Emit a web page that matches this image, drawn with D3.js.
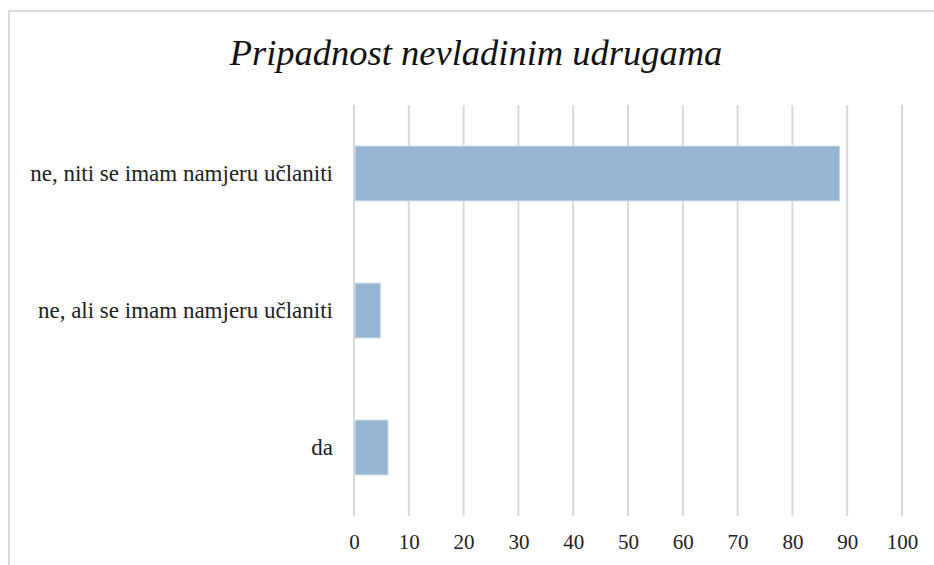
<!DOCTYPE html>
<html lang="hr">
<head>
<meta charset="utf-8">
<title>Pripadnost nevladinim udrugama</title>
<script src="https://cdn.jsdelivr.net/npm/d3@7"></script>
<style>
  body { margin: 0; background: #fff; }
  svg { display: block; }
  svg text { font-family: "Liberation Serif", "Times New Roman", "DejaVu Serif", serif !important; }
</style>
</head>
<body>
<svg id="chart" width="934" height="565"></svg>
<script>
// data
var categories = ["ne, niti se imam namjeru učlaniti", "ne, ali se imam namjeru učlaniti", "da"];
var values = [88.6, 4.8, 6.2];
var xTicks = [0, 10, 20, 30, 40, 50, 60, 70, 80, 90, 100];

var svg = d3.select("#chart");

// chart frame (right and bottom edges are cut off in the original)
svg.append("path")
  .attr("d", "M9,565V11H934")
  .attr("fill", "none")
  .attr("stroke", "#d9d9d9")
  .attr("stroke-width", 2);

var margin = {left: 354, right: 32, top: 105, bottom: 49};
var width = 934 - margin.left - margin.right,
    height = 565 - margin.top - margin.bottom;

var x = d3.scaleLinear().domain([0, 100]).range([margin.left, margin.left + width]);
var y = d3.scaleBand().domain(categories).range([margin.top, margin.top + height]).paddingInner(0.6).paddingOuter(0.3);

// gridlines
svg.append("g")
  .selectAll("line")
  .data(xTicks)
  .enter().append("line")
  .attr("x1", function(d) { return x(d); })
  .attr("x2", function(d) { return x(d); })
  .attr("y1", margin.top)
  .attr("y2", margin.top + height)
  .attr("stroke", "#d9d9d9")
  .attr("stroke-width", 2);

// bars
svg.append("g")
  .selectAll("rect")
  .data(values)
  .enter().append("rect")
  .attr("x", x(0) + 1)
  .attr("y", function(d, i) { return y(categories[i]); })
  .attr("width", function(d) { return x(d) - x(0) - 1; })
  .attr("height", y.bandwidth())
  .attr("fill", "#95b6d3")
  .attr("stroke", "#c5d7e8")
  .attr("stroke-width", 1);

// x axis labels
var xAxis = d3.axisBottom(x).tickValues(xTicks).tickSize(0).tickPadding(18);
svg.append("g")
  .attr("transform", "translate(0," + (margin.top + height) + ")")
  .call(xAxis)
  .call(function(g) { g.select(".domain").remove(); })
  .selectAll("text")
  .attr("font-size", 21)
  .attr("fill", "#222");

// category labels
var yAxis = d3.axisLeft(y).tickSize(0).tickPadding(21);
svg.append("g")
  .attr("transform", "translate(" + margin.left + ",0)")
  .call(yAxis)
  .call(function(g) { g.select(".domain").remove(); })
  .selectAll("text")
  .attr("font-size", 23)
  .attr("fill", "#222");

// title
svg.append("text")
  .attr("x", 476)
  .attr("y", 65)
  .attr("text-anchor", "middle")
  .attr("font-style", "italic")
  .attr("font-size", 36.5)
  .attr("fill", "#111")
  .text("Pripadnost nevladinim udrugama");
</script>
</body>
</html>
